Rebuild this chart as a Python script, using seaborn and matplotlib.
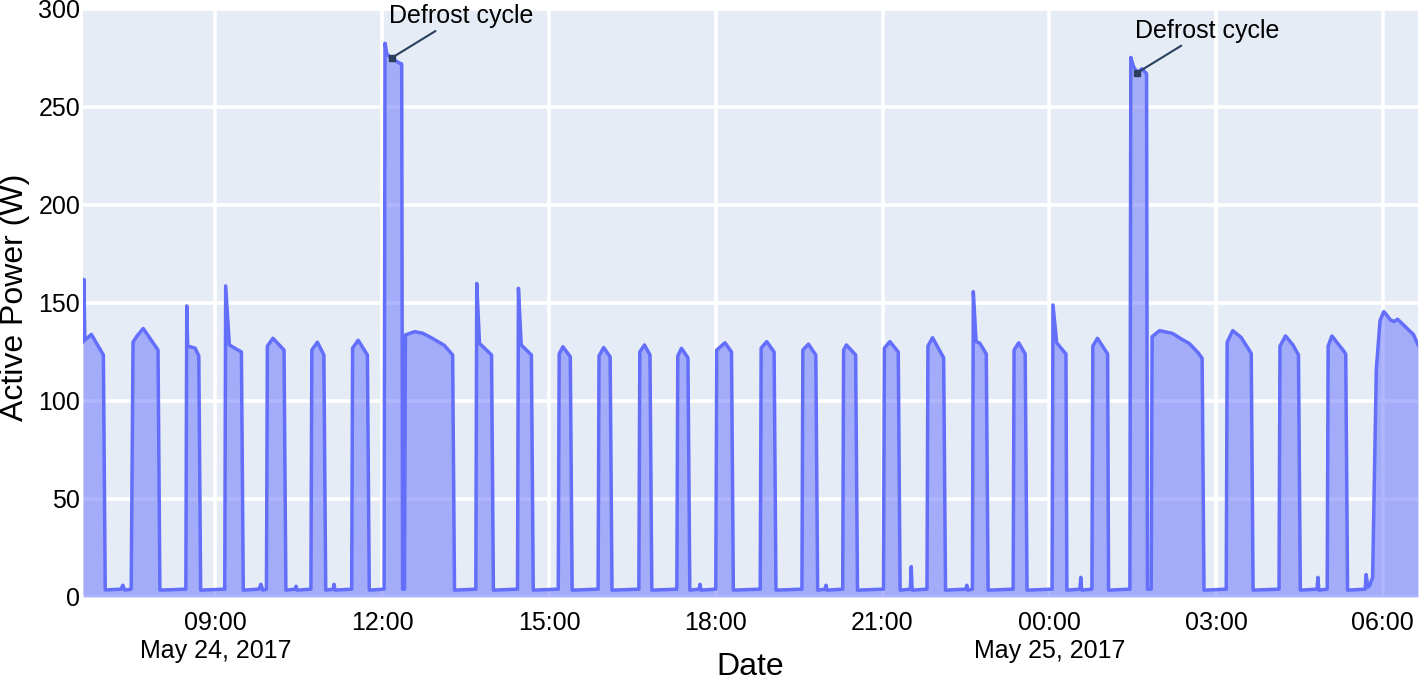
import pandas as pd
import matplotlib.pyplot as plt
import seaborn as sns

# Fridge active power, breakpoints (day-of-May + clock time)
times = [
    '24 06:37', '24 06:38', '24 06:39', '24 06:46', '24 06:59', '24 07:01',
    '24 07:18', '24 07:20', '24 07:22',
    '24 07:29', '24 07:31', '24 07:35', '24 07:42', '24 07:58', '24 08:00',
    '24 08:28', '24 08:29', '24 08:30', '24 08:38', '24 08:42', '24 08:44',
    '24 09:10', '24 09:11', '24 09:15', '24 09:28', '24 09:30',
    '24 09:47', '24 09:49', '24 09:51',
    '24 09:55', '24 09:56', '24 10:02', '24 10:14', '24 10:16',
    '24 10:26', '24 10:27', '24 10:28',
    '24 10:43', '24 10:44', '24 10:50', '24 10:57', '24 10:59',
    '24 11:07', '24 11:08', '24 11:09',
    '24 11:27', '24 11:28', '24 11:34', '24 11:44', '24 11:46',
    '24 12:02', '24 12:03', '24 12:05', '24 12:10', '24 12:13', '24 12:19', '24 12:21', '24 12:22', '24 12:24',
    '24 12:25', '24 12:35', '24 12:44', '24 12:54', '24 13:07', '24 13:16', '24 13:18',
    '24 13:41', '24 13:42', '24 13:45', '24 13:58', '24 14:00',
    '24 14:26', '24 14:27', '24 14:30', '24 14:41', '24 14:43',
    '24 15:10', '24 15:11', '24 15:15', '24 15:23', '24 15:25',
    '24 15:53', '24 15:54', '24 15:59', '24 16:06', '24 16:08',
    '24 16:37', '24 16:38', '24 16:43', '24 16:49', '24 16:51',
    '24 17:18', '24 17:19', '24 17:23', '24 17:30', '24 17:32',
    '24 17:42', '24 17:43', '24 17:44',
    '24 18:00', '24 18:01', '24 18:10', '24 18:17', '24 18:19',
    '24 18:48', '24 18:49', '24 18:55', '24 19:03', '24 19:05',
    '24 19:33', '24 19:34', '24 19:40', '24 19:48', '24 19:50',
    '24 19:58', '24 19:59', '24 20:00',
    '24 20:17', '24 20:18', '24 20:21', '24 20:31', '24 20:33',
    '24 21:01', '24 21:02', '24 21:08', '24 21:17', '24 21:19',
    '24 21:30', '24 21:31', '24 21:32',
    '24 21:48', '24 21:49', '24 21:54', '24 22:06', '24 22:08',
    '24 22:30', '24 22:31', '24 22:32',
    '24 22:37', '24 22:38', '24 22:41', '24 22:45', '24 22:52', '24 22:54',
    '24 23:21', '24 23:22', '24 23:27', '24 23:34', '24 23:36',
    '25 00:03', '25 00:04', '25 00:08', '25 00:18', '25 00:19',
    '25 00:33', '25 00:34', '25 00:35',
    '25 00:46', '25 00:47', '25 00:52', '25 01:03', '25 01:04',
    '25 01:27', '25 01:28', '25 01:31', '25 01:35', '25 01:40', '25 01:45', '25 01:46', '25 01:50',
    '25 01:51', '25 01:59', '25 02:13', '25 02:22', '25 02:31', '25 02:40', '25 02:45', '25 02:47',
    '25 03:11', '25 03:12', '25 03:18', '25 03:27', '25 03:38', '25 03:40',
    '25 04:08', '25 04:09', '25 04:15', '25 04:23', '25 04:29', '25 04:31',
    '25 04:49', '25 04:50', '25 04:51',
    '25 05:00', '25 05:01', '25 05:05', '25 05:17', '25 05:20', '25 05:22',
    '25 05:41', '25 05:42', '25 05:44', '25 05:46',
    '25 05:49', '25 05:53', '25 05:57', '25 06:01', '25 06:04', '25 06:08', '25 06:12',
    '25 06:16', '25 06:22', '25 06:28', '25 06:33', '25 06:38',
]
watts = [
    130, 162, 131, 134, 123.5, 3.6,
    4, 6, 3.5,
    4, 130, 133, 137, 126, 3.5,
    4, 148.5, 128, 127, 123, 3.5,
    4, 158.7, 128.6, 125, 3.5,
    4, 6.5, 3.5,
    4, 128, 132, 126, 3.5,
    4, 5.5, 3.5,
    4, 126, 130, 123.5, 3.5,
    4, 6.5, 3.5,
    4, 127, 131, 123.5, 3.5,
    4, 282.5, 277, 275, 274, 272.3, 272, 4, 4,
    133.7, 135.4, 134.5, 132, 128.4, 123.5, 3.5,
    4, 160, 129.4, 123.5, 3.5,
    4, 157.5, 128.6, 123.5, 3.5,
    4, 124, 127.7, 122.6, 3.5,
    4, 123, 127.3, 122.5, 3.5,
    4, 125, 128.6, 123.5, 3.5,
    4, 123, 126.9, 122, 3.5,
    4, 6.5, 3.5,
    4, 126, 129.7, 125, 3.5,
    4, 127, 130.3, 125, 3.5,
    4, 126, 129, 123.5, 3.5,
    4, 6, 3.5,
    4, 126, 128.6, 123.5, 3.5,
    4, 127, 130.3, 125, 3.5,
    4, 15.5, 3.5,
    4, 128, 132.3, 122, 3.5,
    4, 6, 3.5,
    4, 155.8, 130.3, 129.5, 124, 3.5,
    4, 126, 129.7, 124, 3.5,
    4, 149, 129.7, 124, 3.5,
    4, 10, 3.5,
    4, 128, 132, 124, 3.5,
    4, 275.3, 270.6, 267.5, 269.5, 267, 4, 4,
    132.8, 135.9, 134.5, 131.8, 129.4, 125, 121.8, 3.5,
    4, 130, 135.9, 132.5, 124.3, 3.5,
    4, 128, 133.2, 128.6, 123.5, 3.5,
    4, 10, 3.5,
    4, 128, 133.2, 126, 124, 3.5,
    4, 11.5, 5, 6,
    10, 116, 141, 145.6, 144, 141.5, 140.5,
    141.7, 139, 136.2, 134, 128.6,
]

tick_times = ['2017-05-24 09:00', '2017-05-24 12:00', '2017-05-24 15:00', '2017-05-24 18:00',
              '2017-05-24 21:00', '2017-05-25 00:00', '2017-05-25 03:00', '2017-05-25 06:00']
tick_labels = ['09:00\nMay 24, 2017', '12:00', '15:00', '18:00', '21:00',
               '00:00\nMay 25, 2017', '03:00', '06:00']
y_ticks = [0, 50, 100, 150, 200, 250, 300]

defrost_times = ['2017-05-24 12:10', '2017-05-25 01:35']
defrost_watts = [275, 267.5]
defrost_label = 'Defrost cycle'

df = pd.DataFrame({
    'Date': pd.to_datetime(['2017-05-' + t for t in times]),
    'Active Power (W)': watts,
})

sns.set_theme(style='darkgrid', rc={'axes.facecolor': '#E5ECF6', 'grid.color': 'white',
                                    'grid.linewidth': 2.6})
plt.rcParams['font.family'] = ['Liberation Sans', 'DejaVu Sans']

fig = plt.figure(figsize=(14.19, 6.81), dpi=100)
ax = fig.add_axes([83 / 1419, 84 / 681, 1335 / 1419, 588 / 681])
ax.set_axisbelow(True)

ax.fill_between(df['Date'], df['Active Power (W)'], 0, color='#636EFA', alpha=0.5, lw=0)
sns.lineplot(data=df, x='Date', y='Active Power (W)', color='#636EFA', lw=2.5, ax=ax)

# annotations: arrow with square head + label
for t, w in zip(pd.to_datetime(defrost_times), defrost_watts):
    ax.annotate('', xy=(t, w), xytext=(44, 27), textcoords='offset pixels',
                arrowprops=dict(arrowstyle='-', color='#2a3f5f', lw=1.5, shrinkA=0, shrinkB=0))
    ax.plot([t], [w], marker='s', ms=4.5, color='#2a3f5f')
    ax.annotate(defrost_label, xy=(t, w), xytext=(70, 42), textcoords='offset pixels',
                ha='center', va='center', fontsize=18, color='black')

ax.set_xlim(df['Date'].min(), df['Date'].max())
ax.set_ylim(0, 300)
ax.set_xticks(pd.to_datetime(tick_times))
ax.set_xticklabels(tick_labels)
ax.set_yticks(y_ticks)
ax.tick_params(axis='x', labelsize=18, pad=10, length=0, colors='black')
ax.tick_params(axis='y', labelsize=18, pad=2, length=0, colors='black')
for s in ax.spines.values():
    s.set_visible(False)

ax.set_xlabel('Date', fontsize=23, color='black')
ax.set_ylabel('Active Power (W)', fontsize=23, color='black')
ax.xaxis.set_label_coords(0.5, -0.094)
ax.yaxis.set_label_coords(-0.040, 0.509)

plt.savefig('out.png', dpi=100)
